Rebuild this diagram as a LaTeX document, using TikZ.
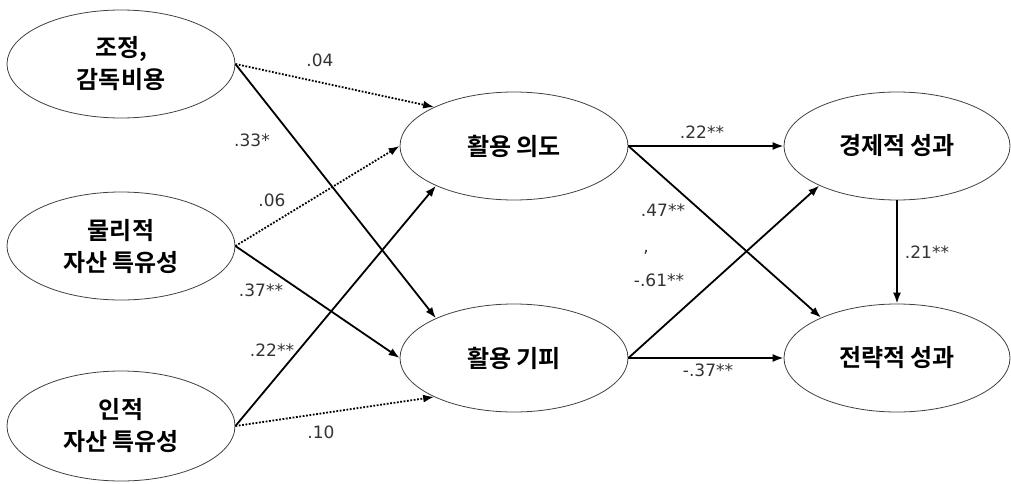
\documentclass[tikz,border=0pt]{standalone}
\usepackage{fontspec}
\setmainfont{Noto Sans CJK KR}[BoldFont = Noto Sans CJK KR Bold]
\newfontfamily\numfont{DejaVu Sans}[Scale=1.0]
\usetikzlibrary{shapes.geometric,arrows.meta}
\begin{document}
\begin{tikzpicture}[x=1pt,y=-1pt,
  lat/.style={ellipse,draw=black!75,line width=0.8pt,minimum width=228pt,minimum height=108pt,
    align=center,inner sep=0pt,font=\bfseries\fontsize{24}{32}\selectfont},
  path/.style={line width=1.8pt,-{Latex[length=11pt,width=8pt]}},
  npath/.style={path,dash pattern=on 1.8pt off 1.6pt},
  coef/.style={font=\numfont\fontsize{17}{19}\selectfont,text=black!80,inner sep=0pt}]
\useasboundingbox (0,0) rectangle (1011,484);
\node[lat] (A) at (121,64) {조정,\\감독비용};
\node[lat] (B) at (121,246) {물리적\\자산 특유성};
\node[lat,minimum height=110pt] (C) at (121,426) {인적\\자산 특유성};
\node[lat] (D) at (514,146) {활용 의도};
\node[lat] (E) at (514,358) {활용 기피};
\node[lat,minimum width=226pt] (F) at (897,146) {경제적 성과};
\node[lat,minimum width=226pt] (G) at (897,358) {전략적 성과};

\draw[npath] (A.east) -- (D.154);
\draw[path] (A.east) -- (E.153);
\draw[npath] (B.east) -- (D.west);
\draw[path] (B.east) -- (E.west);
\draw[path] (C.east) -- (D.207);
\draw[npath] (C.east) -- (E.206);
\draw[path] (D.east) -- (F.west);
\draw[path] (D.east) -- (G.152);
\draw[path] (E.east) -- (F.207);
\draw[path] (E.east) -- (G.west);
\draw[path] (F.south) -- (G.north);

\node[coef] (l1) at (320,60) {.04};
\node[coef] (l2) at (252,140) {.33*};
\node[coef] (l3) at (272,200) {.06};
\node[coef] (l4) at (261,290) {.37**};
\node[coef] (l5) at (272,350) {.22**};
\node[coef] (l6) at (321,432) {.10};
\node[coef] (l7) at (702,132) {.22**};
\node[coef] (l8) at (663,210) {.47**};
\node[coef] (l9) at (646,252) {,};
\node[coef] (l10) at (659,280) {-.61**};
\node[coef] (l11) at (708,370) {-.37**};
\node[coef] (l12) at (927,252) {.21**};
\end{tikzpicture}
\end{document}
